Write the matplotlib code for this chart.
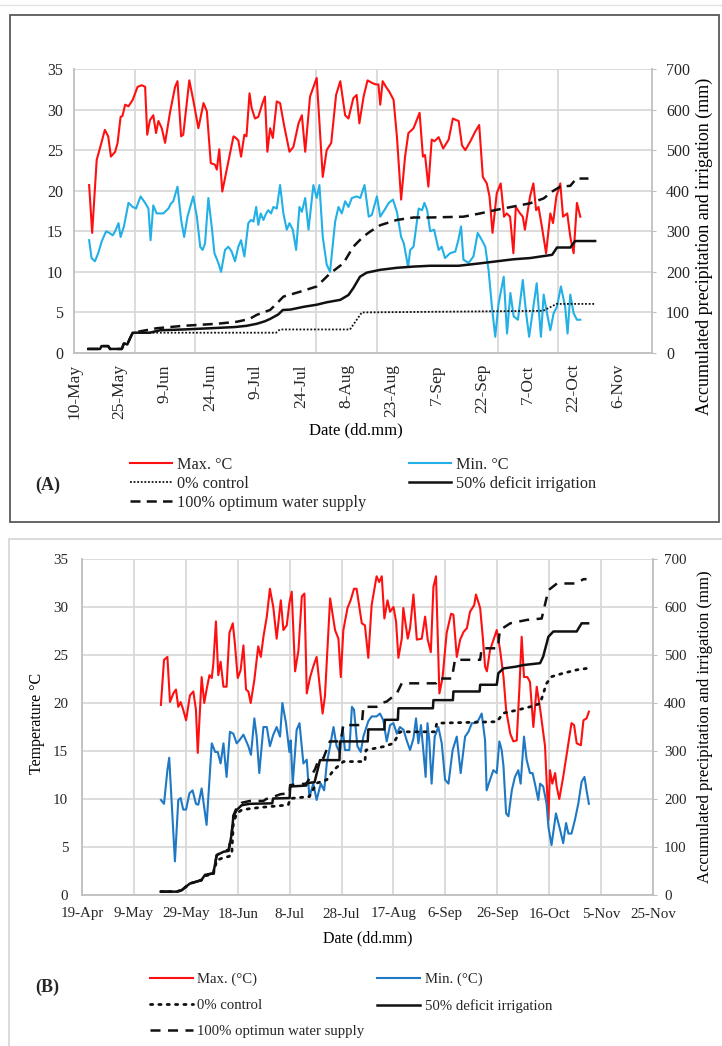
import numpy as np
import pandas as pd
import matplotlib

matplotlib.use("Agg")
import matplotlib.pyplot as plt
import matplotlib.dates as mdates
from matplotlib.patches import Rectangle
from matplotlib.lines import Line2D

# ---------------------------------------------------------------- data
# (days after axis start, value)
A_START = "2019-05-10"
B_START = "2019-04-19"

a_tmax = [
    (5, 20.7), (6, 14.8), (7.5, 23.8), (8.4, 25.0), (10.2, 27.5), (11.3, 26.7), (12.2, 24.2),
    (13.6, 24.8), (14.4, 25.9), (15.4, 29.1), (16, 29.2), (16.9, 30.6), (18, 30.4), (19.4, 31.2),
    (21, 32.8), (22.4, 33.0), (23.5, 32.8), (24.2, 26.9), (25.1, 28.7), (26.2, 29.3), (27.1, 27.1),
    (27.9, 28.6), (29, 27.7), (30.1, 25.9), (31.7, 29.6), (33.4, 32.8), (34.2, 33.5), (35.4, 26.7),
    (36.1, 26.9), (38.1, 33.6), (39.4, 31.2), (41.1, 27.7), (42.8, 30.8), (43.9, 29.8), (45.2, 23.4),
    (46.6, 23.2), (47.2, 22.6), (48, 25.1), (49, 19.9), (51, 23.6), (52.7, 26.7), (53.2, 26.6),
    (54.3, 26.2), (55.2, 24.2), (56.3, 26.9), (57, 26.7), (58, 32.0), (58.7, 30.2), (59.8, 28.9),
    (60.9, 29.1), (62.3, 30.8), (63.1, 31.6), (63.9, 24.8), (64.8, 27.7), (65.7, 26.5), (67, 31.0),
    (68.1, 30.8), (69.4, 28.1), (71.2, 24.8), (72.5, 25.4), (74.2, 28.3), (75.3, 29.3), (76.4, 24.8),
    (78, 31.6), (80.2, 33.9), (82.2, 21.7), (83.5, 25.0), (85, 25.9), (86.6, 31.8), (88, 33.5),
    (89.6, 29.3), (90.7, 28.9), (92.3, 31.4), (93.4, 31.8), (94.3, 28.3), (95.7, 31.6), (97, 33.6),
    (98.4, 33.3), (99.7, 33.1), (100.6, 33.1), (101.2, 30.6), (102, 33.5), (103.1, 32.8),
    (104.2, 32.2), (105.6, 31.2), (106.7, 26.7), (108.1, 18.9), (109.4, 24.2), (110.5, 27.1),
    (112.2, 27.7), (114.2, 29.6), (115.3, 24.2), (116, 24.4), (117.1, 20.5), (118.2, 26.3),
    (119.1, 26.1), (120.5, 26.6), (122, 25.2), (123.8, 26.3), (125.2, 28.9), (126.3, 28.7),
    (127.1, 28.6), (128.2, 25.6), (129.3, 25.0), (131, 26.1), (132.6, 27.3), (133.9, 28.1),
    (135.1, 21.7), (136.4, 20.9), (137.3, 19.3), (138.3, 14.8), (139.7, 19.7), (141, 20.9),
    (142.1, 16.8), (143, 17.2), (144.1, 16.8), (145.2, 12.3), (146, 18.0), (147.4, 17.2),
    (148.3, 16.8), (149, 15.2), (150.7, 19.3), (151.8, 20.9), (152.7, 17.6), (153.5, 18.0),
    (154.6, 15.6), (156, 12.3), (157.4, 17.2), (158.3, 16.0), (159.4, 19.3), (160.7, 20.9),
    (161.6, 16.8), (163, 17.2), (164, 14.3), (165.1, 12.3), (166.2, 18.5), (167.3, 16.8),
]

a_tmin = [
    (5, 13.9), (5.8, 11.7), (6.9, 11.3), (8, 12.3), (9.1, 13.7), (10.6, 15.0), (11.7, 14.8),
    (12.8, 14.5), (13.6, 15.0), (14.7, 16.0), (15.4, 14.3), (16.5, 15.6), (18, 18.5), (19.4, 18.0),
    (20.5, 17.8), (22, 19.3), (23.5, 18.5), (24.6, 17.8), (25.3, 13.9), (26.2, 18.2), (27.3, 17.2),
    (29.5, 17.2), (31.2, 17.8), (32, 18.4), (32.8, 18.7), (34.2, 20.5), (35.4, 16.4), (36.4, 14.3),
    (37.5, 16.8), (39.4, 19.3), (40.6, 16.8), (41.7, 13.1), (42.5, 12.7), (43.3, 13.5), (44.4, 19.1),
    (45.5, 15.6), (46.4, 12.3), (47.7, 11.1), (48.6, 10.0), (49.9, 12.7), (51, 13.1), (52.1, 12.5),
    (53.2, 11.3), (54.3, 13.1), (55.2, 13.9), (56.3, 11.9), (57.6, 16.0), (58.5, 16.4), (59.3, 16.2),
    (60.2, 18.0), (60.9, 15.8), (61.7, 17.2), (62.6, 16.4), (63.5, 17.2), (64.2, 17.6), (65.1, 17.2),
    (65.9, 18.0), (67, 17.8), (68.1, 20.7), (69.2, 17.2), (70.3, 15.2), (71.2, 16.0), (72.3, 15.2),
    (73.4, 12.7), (74.5, 18.0), (75.3, 17.4), (76.4, 19.1), (77.5, 15.2), (79.1, 20.7), (80.2, 19.1),
    (81.1, 20.7), (82.2, 14.3), (83.5, 10.9), (84.6, 10.0), (86.3, 16.2), (87.4, 18.0), (88.5, 17.2),
    (89.6, 18.7), (90.7, 18.0), (91.8, 19.1), (93.4, 19.3), (94.6, 19.1), (96, 20.7), (97.4, 16.8),
    (98.4, 17.0), (100.1, 19.3), (101.2, 16.8), (102.9, 17.8), (104, 18.5), (105.4, 18.9),
    (106.7, 17.4), (108.1, 14.3), (109, 13.5), (110.4, 10.6), (111.1, 12.7), (112.2, 13.1),
    (113.9, 17.8), (115, 17.6), (115.8, 18.5), (116.7, 17.6), (117.7, 15.0), (119, 15.2),
    (120.5, 12.7), (121.5, 13.1), (122.6, 11.7), (124.3, 12.3), (126, 12.5), (127, 13.9),
    (127.9, 15.6), (128.7, 11.5), (130.4, 11.1), (132, 11.9), (133.4, 14.8), (134.8, 13.9),
    (135.9, 13.1), (137, 10.2), (138.1, 5.7), (139.2, 2.0), (140.3, 6.1), (142, 9.4), (143.1, 2.4),
    (144.2, 7.4), (145.3, 4.5), (146.7, 4.1), (148.3, 9.0), (149.4, 4.9), (150.4, 2.0), (151.5, 4.9),
    (152.9, 8.6), (154.3, 2.0), (155.2, 7.2), (156.1, 5.3), (157.4, 2.8), (158.5, 4.9), (159.6, 5.7),
    (160.9, 8.2), (162.3, 5.7), (163.1, 2.4), (164, 7.2), (165.1, 4.9), (166.2, 4.1), (167.3, 4.1),
]

# accumulated precipitation + irrigation (mm)
a_ctrl = [
    (4.7, 10), (8.6, 10), (9.1, 17), (11.3, 17), (11.9, 10), (15.8, 10), (16.5, 24), (17.6, 21),
    (18.5, 36), (19.4, 50), (66.8, 50), (68, 58), (91.2, 58), (95.1, 100), (155, 104), (159.5, 121),
    (172.2, 121),
]
a_def = [
    (4.7, 10), (8.6, 10), (9.1, 17), (11.3, 17), (11.9, 10), (15.8, 10), (16.5, 24), (17.6, 21),
    (18.5, 36), (19.4, 50), (25, 50), (28.4, 56), (36.1, 58), (45, 61), (53.2, 64), (57, 67),
    (60.4, 72), (63, 78), (64.8, 84), (67.5, 95), (69, 106), (71.5, 107), (76, 114), (80.2, 119),
    (83.5, 125), (88, 131), (90.7, 143), (92.3, 160), (94.5, 188), (96.7, 198), (101.2, 205),
    (106.7, 210), (112.2, 213), (117.7, 215), (127.1, 215), (134.2, 221), (145.2, 231),
    (150.7, 234), (158, 242), (159.6, 260), (164, 260), (165.6, 276), (172.2, 276),
]
a_opt = [
    (4.7, 10), (8.6, 10), (9.1, 17), (11.3, 17), (11.9, 10), (15.8, 10), (16.5, 24), (17.6, 21),
    (18.5, 36), (19.4, 50), (27.3, 61), (36.1, 67), (47.2, 72), (53.8, 77), (58, 84), (60.4, 94),
    (62.5, 100), (64.8, 106), (67, 122), (69.2, 139), (74.7, 151), (80.2, 164), (84.6, 196),
    (89, 221), (92.3, 262), (95.6, 287), (98, 300), (101.2, 315), (106.7, 328), (112.2, 334),
    (117.7, 334), (128.7, 336), (134.2, 344), (139.7, 353), (150.7, 369), (155.2, 381), (158, 398),
    (160.7, 410), (164, 412), (166, 430), (170, 430),
]

b_tmax = [
    (30.4, 19.8), (31.6, 24.5), (32.9, 24.8), (33.9, 20.1), (35.2, 21.0), (36.2, 21.4), (37.1, 19.6),
    (38, 20.1), (39, 19.3), (40.1, 18.2), (41.6, 20.8), (42.9, 21.2), (43.9, 19.3), (44.6, 14.8),
    (46.1, 22.7), (47.1, 20.0), (48, 21.4), (49.1, 22.9), (50, 22.6), (50.6, 24.1), (51.6, 28.5),
    (52.5, 22.9), (53.4, 24.3), (54.5, 21.7), (55.7, 21.7), (56.8, 27.3), (58.1, 28.3), (58.9, 26.2),
    (60, 22.6), (61.1, 23.4), (62.2, 26.0), (63.2, 21.4), (64.1, 21.2), (65, 20.0), (66.4, 22.4),
    (67.9, 25.9), (68.9, 24.8), (69.9, 26.9), (71.2, 29.0), (72.4, 31.9), (73.7, 30.0), (75, 26.7),
    (76.6, 30.7), (77.6, 27.6), (78.9, 28.1), (79.9, 30.4), (80.8, 31.6), (82.1, 23.3), (83.4, 25.5),
    (84.7, 31.1), (85.7, 31.4), (86.6, 21.0), (87.9, 22.7), (89.1, 23.8), (90.4, 24.8), (91.5, 22.0),
    (92.7, 18.9), (93.6, 20.7), (95.6, 30.9), (97.5, 27.6), (98.8, 26.7), (99.7, 22.7), (100.7, 27.6),
    (102.3, 29.9), (103.5, 30.7), (104.8, 31.9), (105.8, 31.9), (107.8, 28.3), (109, 28.1),
    (110.3, 24.7), (111.6, 30.2), (113.5, 33.2), (114.5, 32.6), (115.5, 33.2), (116.5, 28.8),
    (117.7, 30.7), (118.7, 29.5), (120, 30.0), (121, 28.5), (121.9, 24.7), (123.2, 26.7),
    (123.8, 29.9), (125.5, 26.7), (126.4, 27.8), (127.7, 31.3), (129, 26.6), (130.9, 26.7),
    (132.2, 29.0), (133.2, 26.6), (134.4, 25.3), (135.4, 32.1), (136.4, 33.2), (137.7, 21.0),
    (138.9, 22.6), (140.5, 27.3), (142.2, 29.3), (143.1, 29.2), (144.4, 24.8), (145.7, 26.6),
    (147, 27.4), (148.3, 27.8), (149.5, 29.5), (151.1, 30.2), (151.8, 31.3), (153.4, 29.9),
    (154.4, 26.9), (155.3, 23.8), (156, 23.3), (157.2, 25.5), (159.8, 27.6), (161.1, 25.5),
    (162.4, 22.7), (163.4, 19.3), (165, 16.8), (166.2, 16.0), (167.5, 16.1), (168.5, 21.4),
    (169.4, 26.9), (170.3, 22.7), (171.6, 22.7), (172.6, 22.2), (173.9, 17.5), (175.2, 21.7),
    (176.4, 19.6), (178.4, 15.5), (179.7, 7.8), (180.3, 13.0), (181.2, 11.6), (182.3, 12.7),
    (182.9, 11.3), (183.9, 10.0), (185.4, 12.3), (187, 15.1), (188.6, 17.9), (189.6, 17.7),
    (190.6, 15.8), (192.2, 15.6), (193.2, 18.2), (194.4, 18.4), (195.3, 19.1),
]

b_tmin = [
    (30.4, 9.9), (31.6, 9.5), (32.9, 13.0), (33.6, 14.3), (35.8, 3.5), (37.1, 9.9), (38, 10.1),
    (39, 8.9), (40.1, 8.9), (41.4, 10.6), (42.6, 10.9), (43.9, 9.5), (44.8, 9.4), (46.1, 11.1),
    (48, 7.3), (50, 15.8), (51.3, 14.9), (52.3, 14.9), (53.4, 13.7), (54.5, 15.8), (55.7, 12.3),
    (57, 17.0), (58.3, 16.8), (59.6, 15.8), (60.6, 16.1), (62.2, 16.7), (64.1, 15.5), (65.1, 14.6),
    (66.4, 18.4), (67.3, 16.5), (68.3, 12.7), (69.9, 17.5), (71.2, 17.5), (72.4, 15.5), (73.7, 16.7),
    (75, 17.5), (76.3, 16.5), (77.2, 20.0), (78.6, 17.9), (79.9, 14.9), (80.4, 16.1), (81.2, 11.6),
    (82.7, 17.2), (83.8, 17.9), (85.3, 13.7), (86.6, 14.1), (87.6, 10.2), (89.1, 11.6), (90.4, 9.9),
    (92, 11.6), (93.3, 10.9), (94.3, 13.7), (95.3, 15.1), (96.9, 17.5), (98.1, 15.5), (99.4, 14.8),
    (100.4, 17.5), (101.3, 15.1), (103, 15.1), (104, 19.6), (104.8, 19.3), (106.1, 15.5),
    (107.4, 14.9), (108.4, 16.5), (110.3, 18.1), (111.6, 18.6), (113.5, 18.6), (114.8, 18.9),
    (116.1, 18.2), (117.4, 16.0), (118.7, 17.7), (120, 17.9), (121.3, 16.8), (122.5, 17.5),
    (123.9, 17.2), (125.1, 16.1), (126.4, 15.1), (127.7, 16.3), (128.7, 18.4), (129.6, 15.8),
    (130.6, 17.7), (131.5, 15.1), (132.4, 12.3), (133.1, 17.9), (133.8, 16.1), (134.7, 11.6),
    (135.9, 16.5), (137.3, 17.5), (138.6, 15.8), (139.9, 12.0), (141.2, 11.6), (142.8, 15.1),
    (144.4, 16.5), (145.9, 12.7), (147.6, 16.5), (148.9, 17.0), (150.2, 17.9), (151.4, 17.9),
    (152.7, 18.2), (154, 18.9), (155.3, 16.1), (155.9, 10.9), (157.2, 12.0), (158.5, 13.0),
    (159.8, 12.7), (160.8, 16.0), (161.7, 15.1), (162.4, 13.4), (163.4, 8.5), (164.3, 8.2),
    (165.6, 10.9), (166.8, 12.3), (168.1, 13.0), (169, 11.6), (170.3, 16.5), (171.3, 14.1),
    (172.6, 12.7), (173.6, 12.7), (174.5, 11.6), (175.8, 9.9), (176.5, 11.6), (177.7, 11.3),
    (179, 9.5), (179.7, 7.1), (180.9, 5.2), (182.6, 8.5), (184.2, 6.8), (185.4, 5.4), (186.5, 7.5),
    (187.4, 6.4), (188.6, 6.4), (189.9, 7.8), (191.2, 9.5), (192.5, 11.8), (193.6, 12.3),
    (194.4, 10.9), (195.3, 9.5),
]

b_ctrl = [
    (30.4, 7), (36.5, 7), (38.4, 10), (41.6, 24), (44.2, 28), (46, 31), (47.4, 40), (50.6, 43),
    (51.9, 72), (54.5, 78), (56.5, 80), (57.7, 84), (58.3, 149), (59.6, 170), (61.5, 177),
    (64.7, 180), (69.9, 183), (76.3, 186), (79.5, 188), (80.2, 201), (87.6, 205), (90.4, 233),
    (94.3, 240), (96.9, 260), (100.7, 278), (109, 278), (109.4, 302), (116.1, 309), (120, 316),
    (122.5, 340), (136, 340), (136.7, 358), (159.8, 361), (162.4, 379), (167.5, 385), (172.6, 392),
    (176.5, 399), (179, 441), (181, 455), (185.4, 462), (190.6, 469), (194.4, 472),
]
b_def = [
    (30.4, 7), (36.5, 7), (38.4, 10), (41.6, 24), (44.2, 28), (46, 31), (47.4, 42), (50.6, 45),
    (51.9, 83), (54.5, 90), (56.5, 92), (57.7, 128), (58.3, 163), (59.6, 177), (61.5, 187),
    (64.7, 190), (73.3, 191), (73.6, 201), (80, 202), (80.2, 226), (86.4, 228), (86.6, 233),
    (89.6, 235), (91.7, 281), (99.2, 281), (99.4, 320), (110.1, 320), (110.3, 345), (116.5, 345),
    (116.7, 365), (121.7, 365), (121.9, 389), (135.2, 389), (135.4, 406), (142.9, 406),
    (143.1, 424), (153.2, 424), (153.4, 438), (159.8, 438), (160.4, 462), (162.4, 472),
    (167.5, 476), (170, 479), (176.5, 483), (177.7, 497), (179.7, 538), (181.6, 549), (190.6, 549),
    (192.5, 566), (195, 566),
]
b_opt = [
    (30.4, 7), (36.5, 7), (38.4, 10), (41.6, 24), (44.2, 28), (46, 31), (47.4, 42), (50.6, 45),
    (51.9, 83), (54.5, 92), (56.5, 94), (57.7, 130), (58.3, 165), (59.6, 182), (61.5, 192),
    (64.7, 196), (69.9, 196), (71, 200), (73.5, 204), (76.5, 210), (80, 212), (80.2, 229),
    (86.4, 232), (88.5, 250), (89.8, 262), (91, 280), (93, 285), (95.5, 320), (99.7, 320),
    (100.7, 354), (107.8, 354), (108.4, 392), (113.5, 392), (114.8, 399), (117.4, 403),
    (121.3, 420), (123.2, 441), (136.4, 441), (137.3, 451), (142.5, 451), (143.7, 490),
    (153.4, 490), (154, 514), (160.2, 514), (161, 552), (165, 566), (171.3, 573), (177.1, 576),
    (179.7, 635), (183, 649), (190.6, 649), (193.2, 658), (194.4, 658),
]

# ---------------------------------------------------------------- layout helpers
W, H = 722, 1046
SERIF = ["Liberation Serif", "DejaVu Serif"]
GRID = "#d9d9d9"
SPINE = "#bfbfbf"
TXT = "#262626"

plt.rcParams["font.family"] = SERIF
plt.rcParams["text.color"] = TXT


def fbox(x0, y0, x1, y1):
    return [x0 / W, 1 - y1 / H, (x1 - x0) / W, (y1 - y0) / H]


def xy(start, pts):
    x0 = mdates.date2num(pd.Timestamp(start))
    return x0 + np.array([p[0] for p in pts]), np.array([p[1] for p in pts])


def style(ax, ax2, start, ndays, fs):
    x0 = mdates.date2num(pd.Timestamp(start))
    ax.set_xlim(x0, x0 + ndays)
    ax.set_ylim(0, 35)
    ax.set_yticks(range(0, 36, 5))
    ax2.set_ylim(0, 700)
    ax2.set_yticks(range(0, 701, 100))
    ax.yaxis.grid(True, color=GRID, lw=1.3)
    ax.set_axisbelow(True)
    for s in ("top", "right"):
        ax.spines[s].set_visible(False)
    for s in ("top", "left", "bottom"):
        ax2.spines[s].set_visible(False)
    for sp in (ax.spines["left"], ax.spines["bottom"], ax2.spines["right"]):
        sp.set_color(SPINE)
        sp.set_linewidth(1.3)
    ax.xaxis.set_major_formatter(mdates.DateFormatter("%-d-%b"))
    ax.tick_params(axis="y", length=0, labelsize=fs, labelcolor=TXT)
    ax2.tick_params(axis="y", length=3, color=SPINE, labelsize=fs, labelcolor=TXT)
    ax.tick_params(axis="x", which="both", length=0, labelcolor=TXT)
    return x0


fig = plt.figure(figsize=(W / 100, H / 100), dpi=100)

# panel frames
fig.add_artist(Line2D([0, 1], [1 - 5 / H] * 2, transform=fig.transFigure, color="#e3e3e3", lw=1))
fig.add_artist(Rectangle((10 / W, 1 - 522 / H), 709 / W, 507 / H, transform=fig.transFigure,
                         fill=False, ec="#595959", lw=1.3))
fig.add_artist(Rectangle((9 / W, -0.01), 716 / W, (1046 - 539) / H + 0.01,
                         transform=fig.transFigure, fill=False, ec="#d4d4d4", lw=1.2))

# ---------------------------------------------------------------- panel A
axA = fig.add_axes(fbox(74, 69, 652, 353))
axA2 = axA.twinx()
x0 = style(axA, axA2, A_START, 191, 11.5)
axA.set_xticks(x0 + np.arange(0, 181, 15))
axA.set_xticks(x0 + np.arange(20, 181, 20), minor=True)
axA.xaxis.grid(True, which="minor", color=GRID, lw=1.3)
axA.tick_params(axis="x", labelsize=12.5, labelrotation=90, pad=8)
axA.tick_params(axis="y", pad=8)
axA2.tick_params(axis="y", pad=7)

lmax, = axA.plot(*xy(A_START, a_tmax), color="#ff1010", lw=1.5)
lmin, = axA.plot(*xy(A_START, a_tmin), color="#22b0e6", lw=1.5)
lctl, = axA2.plot(*xy(A_START, a_ctrl), color="#111111", lw=1.3, ls=(0, (1, 1)))
ldef, = axA2.plot(*xy(A_START, a_def), color="#111111", lw=1.8)
lopt, = axA2.plot(*xy(A_START, a_opt), color="#111111", lw=1.8, ls=(0, (4, 2.5)))

axA.set_xlabel("Date (dd.mm)", fontsize=12)
axA.xaxis.set_label_coords(0.488, -0.245)
axA2.set_ylabel("Accumulated precipitation and irrigation (mm)", fontsize=13)
axA2.yaxis.set_label_coords(1.076, 0.377)

fig.legend([lmax, lctl, lopt, lmin, ldef],
           ["Max. °C", "0% control", "100% optimum water supply", "Min. °C",
            "50% deficit irrigation"],
           ncol=2, loc="upper left", bbox_to_anchor=(130 / W, 1 - 457 / H), frameon=False,
           borderpad=0, borderaxespad=0, handlelength=2.6, handletextpad=0.3,
           columnspacing=2.6, labelspacing=0.18, prop={"family": SERIF, "size": 11.7})
fig.text(35 / W, 1 - 485 / H, "(A)", fontsize=13, fontweight="bold", va="center")

# ---------------------------------------------------------------- panel B
axB = fig.add_axes(fbox(82, 559, 653, 895))
axB2 = axB.twinx()
x0 = style(axB, axB2, B_START, 220, 10.8)
axB.set_xticks(x0 + np.arange(0, 221, 20))
axB.xaxis.grid(True, which="major", color=GRID, lw=1.3)
axB.tick_params(axis="x", labelsize=10.8, pad=9)
axB.tick_params(axis="y", pad=10)
axB2.tick_params(axis="y", pad=5)

mmax, = axB.plot(*xy(B_START, b_tmax), color="#ff1010", lw=1.5)
mmin, = axB.plot(*xy(B_START, b_tmin), color="#1f78c4", lw=1.5)
mctl, = axB2.plot(*xy(B_START, b_ctrl), color="#111111", lw=2.0, ls=(0, (0.8, 2.2)),
                  dash_capstyle="round")
mdef, = axB2.plot(*xy(B_START, b_def), color="#111111", lw=1.8)
mopt, = axB2.plot(*xy(B_START, b_opt), color="#111111", lw=1.8, ls=(0, (4, 3)))

axB.set_xlabel("Date (dd.mm)", fontsize=11.5)
axB.xaxis.set_label_coords(0.5, -0.104)
axB.set_ylabel("Temperature °C", fontsize=11.5)
axB.yaxis.set_label_coords(-0.065, 0.512)
axB2.set_ylabel("Accumulated precipitation and irrigation (mm)", fontsize=12)
axB2.yaxis.set_label_coords(1.077, 0.5)

fig.legend([mmax, mctl, mopt, mmin, mdef],
           ["Max. (°C)", "0% control", "100% optimun water supply", "Min. (°C)",
            "50% deficit irrigation"],
           ncol=2, loc="upper left", bbox_to_anchor=(150 / W, 1 - 973 / H), frameon=False,
           borderpad=0, borderaxespad=0, handlelength=2.9, handletextpad=0.3,
           columnspacing=0.9, labelspacing=0.85, prop={"family": SERIF, "size": 10.6})
fig.text(35 / W, 1 - 987 / H, "(B)", fontsize=13, fontweight="bold", va="center")

fig.savefig("out.png", dpi=100)
